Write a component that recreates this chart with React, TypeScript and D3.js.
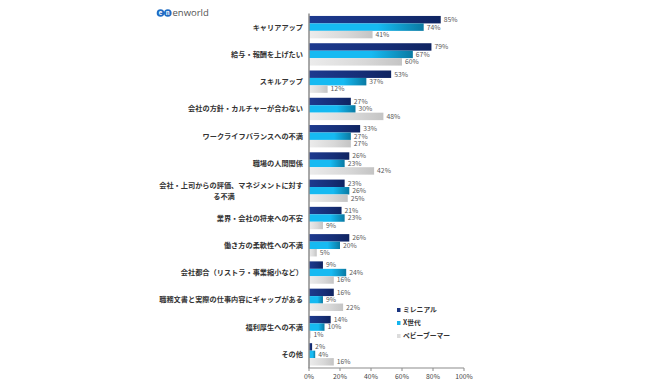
import React from "react";
import * as d3 from "d3";

const categories = [
  "キャリアアップ",
  "給与・報酬を上げたい",
  "スキルアップ",
  "会社の方針・カルチャーが合わない",
  "ワークライフバランスへの不満",
  "職場の人間関係",
  "会社・上司からの評価、マネジメントに対する不満",
  "業界・会社の将来への不安",
  "働き方の柔軟性への不満",
  "会社都合（リストラ・事業縮小など）",
  "職務文書と実際の仕事内容にギャップがある",
  "福利厚生への不満",
  "その他",
];
const seriesNames = ["ミレニアル", "X世代", "ベビーブーマー"];
const millennial = [85, 79, 53, 27, 33, 26, 23, 21, 26, 9, 16, 14, 2];
const genX = [74, 67, 37, 30, 27, 23, 26, 23, 20, 24, 9, 10, 4];
const boomer = [41, 60, 12, 48, 27, 42, 25, 9, 5, 16, 22, 1, 16];
const xTicks = [0, 20, 40, 60, 80, 100];

const seriesValues = [millennial, genX, boomer];
const gradients = [
  ["#1d3a8f", "#0f2461"],
  ["#16baf2", "#0a7aa3"],
  ["#ececec", "#c4c4c4"],
];
const legendColors = ["#1a3480", "#14b4ee", "#dcdcdc"];

const FONT = "'Noto Sans CJK JP', 'Noto Sans', sans-serif";

export default function App() {
  const W = 650;
  const H = 380;
  const x = d3.scaleLinear().domain([0, 100]).range([309, 464]);
  const y = d3
    .scaleBand<string>()
    .domain(categories)
    .range([13.5, 368])
    .paddingInner(0.18)
    .paddingOuter(0.09);
  const inner = d3
    .scaleBand<number>()
    .domain([0, 1, 2])
    .range([0, y.bandwidth()]);

  return (
    <svg
      width={W}
      height={H}
      style={{ position: "absolute", left: 0, top: 0, background: "#fff" }}
      fontFamily={FONT}
    >
      <defs>
        {gradients.map((g, i) => (
          <linearGradient key={i} id={`grad${i}`} x1="0" x2="1" y1="0" y2="0">
            <stop offset="0" stopColor={g[0]} />
            <stop offset="0.6" stopColor={i === 1 ? g[0] : d3.interpolateRgb(g[0], g[1])(0.5)} />
            <stop offset="1" stopColor={g[1]} />
          </linearGradient>
        ))}
      </defs>

      {/* logo */}
      <g>
        <circle cx={160.5} cy={13} r={3.8} fill="#1f6cc4" />
        <circle cx={167.8} cy={13} r={3.8} fill="#1f6cc4" />
        <text x={160.5} y={15.2} fontSize={6} fill="#fff" textAnchor="middle" fontWeight="bold">e</text>
        <text x={167.8} y={15.2} fontSize={6} fill="#fff" textAnchor="middle" fontWeight="bold">n</text>
        <text x={172.5} y={16.3} fontSize={9.5} fill="#555" fontFamily="'Open Sans', sans-serif">enworld</text>
      </g>

      {/* bars */}
      {categories.map((c, ci) => (
        <g key={c} transform={`translate(0,${y(c)})`}>
          {seriesValues.map((vals, si) => (
            <g key={si}>
              <rect
                x={x(0)}
                y={inner(si)}
                width={x(vals[ci]) - x(0)}
                height={inner.bandwidth()}
                fill={`url(#grad${si})`}
              />
              <text
                x={x(vals[ci]) + 3}
                y={(inner(si) as number) + inner.bandwidth() / 2}
                dy="0.35em"
                fontSize={6.8}
                fill="#595959"
              >
                {vals[ci]}%
              </text>
            </g>
          ))}
        </g>
      ))}

      {/* category labels */}
      {categories.map((c, ci) => {
        const cy = (y(c) as number) + y.bandwidth() / 2;
        if (c === "会社・上司からの評価、マネジメントに対する不満") {
          return (
            <g key={c} fontSize={7.2} fill="#333" fontWeight="bold">
              <text x={303} y={cy - 5.5} dy="0.35em" textAnchor="end">
                会社・上司からの評価、マネジメントに対す
              </text>
              <text x={224} y={cy + 5.5} dy="0.35em" textAnchor="middle">
                る不満
              </text>
            </g>
          );
        }
        return (
          <text
            key={c}
            x={303}
            y={cy}
            dy="0.35em"
            textAnchor="end"
            fontSize={7.2}
            fill="#333"
            fontWeight="bold"
          >
            {c}
          </text>
        );
      })}

      {/* axes */}
      <line x1={x(0)} x2={x(0)} y1={13.5} y2={368} stroke="#8c8c8c" strokeWidth={1.5} />
      <line x1={x(0) - 0.75} x2={x(100)} y1={368} y2={368} stroke="#8c8c8c" strokeWidth={1.2} />
      {xTicks.map((t) => (
        <g key={t}>
          <line x1={x(t)} x2={x(t)} y1={368} y2={371} stroke="#8c8c8c" strokeWidth={1} />
          <text x={x(t)} y={377} dy="0.35em" textAnchor="middle" fontSize={6.8} fill="#444">
            {t}%
          </text>
        </g>
      ))}

      {/* legend */}
      {seriesNames.map((n, i) => (
        <g key={n} transform={`translate(397,${310 + i * 13})`}>
          <rect x={0} y={-2} width={3.5} height={4} fill={legendColors[i]} />
          <text x={6} y={0} dy="0.35em" fontSize={6.8} fill="#333" fontWeight="bold">
            {n}
          </text>
        </g>
      ))}
    </svg>
  );
}
